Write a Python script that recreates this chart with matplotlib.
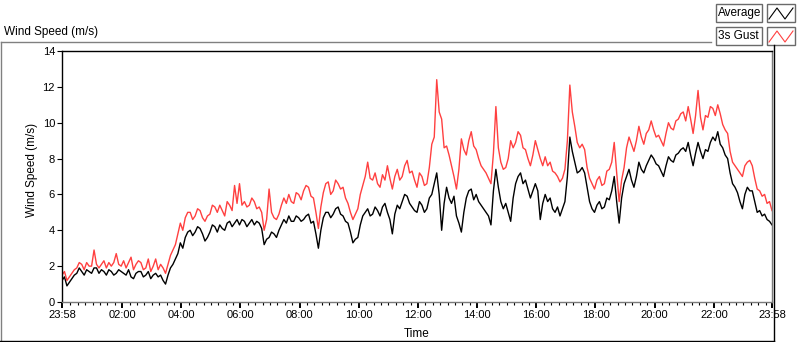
import numpy as np
import matplotlib.pyplot as plt
from matplotlib.lines import Line2D
from matplotlib.patches import Rectangle

plt.rcParams['font.family'] = ['Liberation Sans', 'DejaVu Sans']

# Werte alle 5 Minuten ab 23:58 (289 Punkte, 24 h), eine Zeile = 2 h
minutes = np.arange(0, 1441, 5)

avg = [
    1.2, 1.4, 0.9, 1.1, 1.3, 1.5, 1.6, 1.9, 1.7, 1.5, 1.8, 1.7, 1.6, 1.9, 1.9, 1.6, 1.8, 1.7, 1.5, 1.8, 1.7, 1.5, 1.6, 1.8,
    1.7, 1.6, 1.5, 1.8, 1.4, 1.3, 1.6, 1.7, 1.7, 1.4, 1.5, 1.7, 1.3, 1.5, 1.6, 1.4, 1.5, 1.2, 1.0, 1.5, 1.9, 2.1, 2.4, 2.7,
    3.3, 3.0, 3.6, 3.9, 4.0, 3.7, 3.9, 4.2, 4.1, 3.8, 3.4, 3.6, 3.9, 4.3, 4.2, 3.9, 4.3, 4.1, 4.0, 4.4, 4.5, 4.2, 4.4, 4.6,
    4.3, 4.6, 4.5, 4.2, 4.4, 4.6, 4.3, 4.5, 4.4, 4.1, 3.2, 3.5, 3.6, 3.9, 3.8, 3.6, 4.0, 4.3, 4.6, 4.4, 4.8, 4.5, 4.5, 4.8,
    4.7, 4.5, 4.6, 4.8, 4.9, 4.4, 4.5, 3.8, 3.0, 4.0, 4.7, 5.0, 5.0, 4.7, 4.9, 5.2, 5.3, 4.9, 4.8, 4.5, 4.4, 3.9, 3.3, 3.5,
    3.6, 4.3, 4.8, 5.0, 5.2, 4.8, 4.9, 5.3, 5.1, 4.8, 5.3, 5.5, 5.0, 4.6, 3.8, 4.9, 5.4, 5.2, 5.6, 6.0, 5.9, 5.5, 5.3, 5.1,
    5.0, 5.6, 5.4, 5.0, 5.2, 5.8, 6.0, 6.6, 7.2, 6.0, 4.0, 5.5, 6.4, 5.8, 5.5, 5.9, 4.8, 4.4, 3.9, 5.0, 5.8, 6.2, 6.3, 5.7,
    6.0, 5.6, 5.4, 5.2, 5.0, 4.8, 4.3, 6.2, 7.4, 6.4, 5.6, 5.2, 5.5, 5.0, 4.5, 5.8, 6.6, 7.0, 7.2, 6.6, 6.8, 6.3, 5.8, 6.2,
    6.6, 6.2, 4.6, 5.5, 6.0, 5.6, 5.8, 5.2, 5.0, 5.3, 4.8, 5.2, 5.6, 7.0, 9.2, 8.4, 7.8, 7.2, 7.3, 7.5, 7.2, 6.4, 5.6, 5.2,
    5.0, 5.4, 5.6, 5.2, 5.3, 5.8, 5.7, 6.2, 7.0, 5.6, 4.4, 5.8, 6.6, 7.0, 7.4, 6.8, 6.4, 7.0, 7.8, 7.4, 7.2, 7.6, 7.9, 8.2,
    8.0, 7.7, 7.6, 7.3, 7.0, 7.6, 8.1, 7.9, 7.8, 8.2, 8.3, 8.5, 8.6, 8.4, 8.9, 8.2, 7.6, 8.3, 8.9, 8.4, 8.0, 8.5, 8.4, 8.9,
    9.2, 9.0, 9.5, 8.8, 8.6, 8.2, 8.0, 7.2, 6.6, 6.4, 6.1, 5.6, 5.2, 6.0, 6.4, 6.2, 6.2, 5.6, 5.0, 5.1, 4.8, 4.9, 4.6, 4.5,
    4.3,
]

gust = [
    1.5, 1.7, 1.2, 1.4, 1.6, 1.8, 1.9, 2.2, 2.1, 1.8, 2.2, 2.0, 2.0, 2.9, 2.1, 1.9, 2.1, 2.3, 1.9, 2.2, 2.0, 2.2, 2.7, 2.1,
    2.0, 2.3, 1.9, 2.2, 2.5, 1.8, 2.1, 2.3, 2.2, 1.8, 1.9, 2.4, 1.7, 2.0, 2.4, 1.8, 2.1, 1.9, 1.6, 2.1, 2.6, 2.9, 3.2, 3.8,
    4.4, 4.0, 4.7, 5.0, 5.0, 4.6, 4.8, 5.2, 5.1, 4.7, 4.5, 4.8, 4.9, 5.4, 5.3, 5.0, 5.4, 5.1, 4.8, 5.6, 5.4, 5.1, 6.5, 5.5,
    6.6, 5.4, 5.6, 5.3, 5.4, 5.8, 5.6, 5.2, 5.3, 5.0, 4.0, 4.6, 6.3, 5.0, 4.7, 4.6, 4.9, 5.4, 5.8, 5.5, 6.0, 5.6, 5.5, 6.1,
    6.0, 5.7, 6.2, 6.5, 6.4, 5.9, 5.8, 5.0, 4.1, 5.3, 6.1, 6.6, 6.7, 6.0, 6.2, 6.8, 6.6, 6.3, 6.4, 5.8, 5.5, 5.0, 4.6, 4.9,
    5.2, 6.0, 6.5, 7.0, 7.8, 6.9, 6.8, 7.2, 6.6, 6.4, 7.1, 6.8, 7.6, 6.9, 6.3, 7.0, 7.4, 6.8, 7.0, 7.6, 7.9, 7.2, 7.3, 6.8,
    6.4, 7.2, 7.0, 6.5, 6.6, 7.5, 8.8, 9.2, 12.4, 10.6, 10.2, 8.6, 8.7, 8.2, 7.6, 7.0, 6.3, 7.4, 9.1, 8.5, 8.2, 9.0, 9.5, 8.7,
    8.5, 8.0, 7.6, 7.4, 7.2, 6.9, 6.6, 8.3, 10.9, 8.6, 7.8, 7.4, 7.5, 8.0, 9.0, 8.6, 8.9, 9.5, 9.3, 8.6, 8.5, 8.0, 7.6, 8.2,
    9.0, 8.5, 8.0, 7.6, 8.1, 7.6, 7.8, 7.3, 7.2, 7.0, 6.7, 6.9, 7.4, 9.0, 12.1, 10.6, 9.8, 8.9, 8.6, 8.8, 8.5, 7.5, 6.9, 6.6,
    6.3, 6.8, 7.0, 6.5, 6.6, 7.3, 7.4, 7.8, 8.9, 7.2, 5.6, 6.8, 7.5, 8.6, 9.2, 8.8, 8.4, 9.0, 9.8, 9.2, 8.8, 9.4, 9.6, 10.1,
    9.6, 9.2, 9.3, 9.0, 8.7, 9.4, 10.0, 9.7, 9.6, 10.1, 10.2, 10.5, 10.6, 10.1, 10.9, 10.2, 9.4, 10.4, 11.8, 10.3, 9.6, 10.4, 10.3, 10.9,
    10.8, 10.4, 11.0, 10.5, 9.9, 9.6, 9.4, 8.4, 7.8, 7.6, 7.4, 7.2, 7.0, 7.6, 7.8, 7.9, 7.6, 6.9, 6.3, 6.2, 5.9, 6.0, 5.5, 5.6,
    5.1,
]

time_labels = ['23:58', '02:00', '04:00', '06:00', '08:00', '10:00', '12:00',
               '14:00', '16:00', '18:00', '20:00', '22:00', '23:58']

W, H = 800, 342


def fx(x):
    return x / W


def fy(y):
    return 1 - y / H


fig = plt.figure(figsize=(8, 3.42), dpi=100)
ax = fig.add_axes([fx(62), fy(302), (772 - 62) / W, (302 - 51) / H])

hours = minutes / 60.0
ax.plot(hours, avg, color='black', lw=1.0)
ax.plot(hours, gust, color='#ff4040', lw=1.0)

ax.set_xlim(0, 24)
ax.set_ylim(0, 14)

# Achsen
ax.set_yticks(range(0, 15, 2))
major = [0] + [2 + 2 / 60 + 2 * k for k in range(11)] + [24]
ax.set_xticks(major)
ax.set_xticklabels(time_labels)
ax.set_xticks([17 / 60 + 0.25 * k for k in range(95)], minor=True)
ax.tick_params(axis='y', direction='out', length=3.5, width=0.8, labelsize=8, pad=1.5)
ax.tick_params(axis='x', which='major', direction='out', length=4.5, width=1.4, labelsize=8, pad=1.5)
ax.tick_params(axis='x', which='minor', direction='out', length=2.5, width=0.8)

for s in ['top', 'left']:
    ax.spines[s].set_color('black')
for s in ['right', 'bottom']:
    ax.spines[s].set_color('#7a7a7a')
for s in ax.spines.values():
    s.set_linewidth(1.0)

fig.text(fx(417), fy(334), 'Time', ha='center', va='center', fontsize=8.5)
fig.text(fx(32), fy(170), 'Wind Speed (m/s)', rotation=90, ha='center', va='center', fontsize=8.5)
fig.text(fx(4), fy(32), 'Wind Speed (m/s)', ha='left', va='center', fontsize=8.5)

# Rahmen
tf = fig.transFigure
fig.add_artist(Line2D([fx(0.5), fx(711)], [fy(42), fy(42)], transform=tf, color='#808080', lw=1))
fig.add_artist(Line2D([fx(0.5), fx(0.5)], [fy(42), fy(340)], transform=tf, color='#808080', lw=1))
fig.add_artist(Line2D([fx(0), fx(774)], [fy(340.5), fy(340.5)], transform=tf, color='black', lw=1))
fig.add_artist(Line2D([fx(774), fx(774)], [fy(45), fy(340.5)], transform=tf, color='black', lw=1))

# Legende
entries = [('Average', 'black', 4), ('3s Gust', '#ff4040', 27)]
for name, col, top in entries:
    fig.add_artist(Rectangle((fx(716), fy(top + 18)), 46 / W, 18 / H, transform=tf,
                             facecolor='white', edgecolor='#6a6a6a', lw=1))
    fig.text(fx(718), fy(top + 9), name, ha='left', va='center', fontsize=8.5)
    fig.add_artist(Rectangle((fx(767), fy(top + 18)), 28 / W, 18 / H, transform=tf,
                             facecolor='white', edgecolor='#6a6a6a', lw=1))
    zx = [769, 777, 785, 793]
    zy = [top + 15, top + 4, top + 15, top + 4]
    fig.add_artist(Line2D([fx(v) for v in zx], [fy(v) for v in zy], transform=tf, color=col, lw=0.8))

fig.savefig('out.png', dpi=100)
